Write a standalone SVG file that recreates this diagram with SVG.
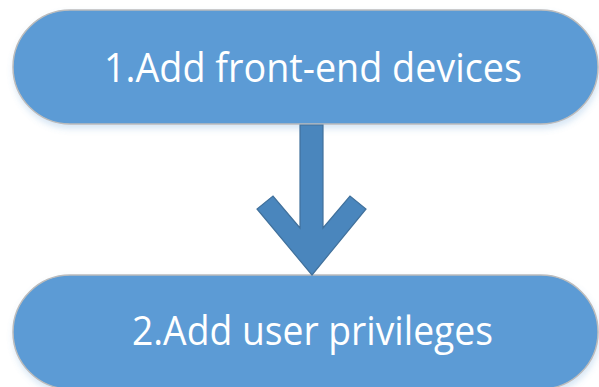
<svg xmlns="http://www.w3.org/2000/svg" width="599" height="387" viewBox="0 0 599 387">
<defs>
<style>
.box{fill:#5b9bd5;stroke:#bcbcbc;stroke-width:1.5}
.lbl{font-family:"Open Sans","Noto Sans",sans-serif;font-size:40px;fill:#ffffff;text-anchor:middle}
.arrow{fill:#4a86bd;stroke:#41719c;stroke-width:1.2}
</style>
<filter id="sh" x="-10%" y="-10%" width="120%" height="130%">
<feGaussianBlur in="SourceAlpha" stdDeviation="3"/>
<feOffset dx="1" dy="4" result="b"/>
<feFlood flood-color="#5b9bd5" flood-opacity="0.25"/>
<feComposite in2="b" operator="in"/>
<feMerge><feMergeNode/><feMergeNode in="SourceGraphic"/></feMerge>
</filter>
</defs>
<rect width="599" height="387" fill="#ffffff"/>
<g id="node1">
<rect class="box" x="13" y="10" width="585" height="114" rx="57" ry="57" filter="url(#sh)"/>
<text class="lbl" x="313" y="82" textLength="418" lengthAdjust="spacingAndGlyphs">1.Add front-end devices</text>
</g>
<g id="node2">
<rect class="box" x="13" y="275" width="585" height="114" rx="57" ry="57" filter="url(#sh)"/>
<text class="lbl" x="312.5" y="345" textLength="361" lengthAdjust="spacingAndGlyphs">2.Add user privileges</text>
</g>
<g id="connectors">
<polygon class="arrow" points="300,125 323,125 323,228 350,196 366,209 312,275 257,209 273,196 300,228"/>
</g>
</svg>
